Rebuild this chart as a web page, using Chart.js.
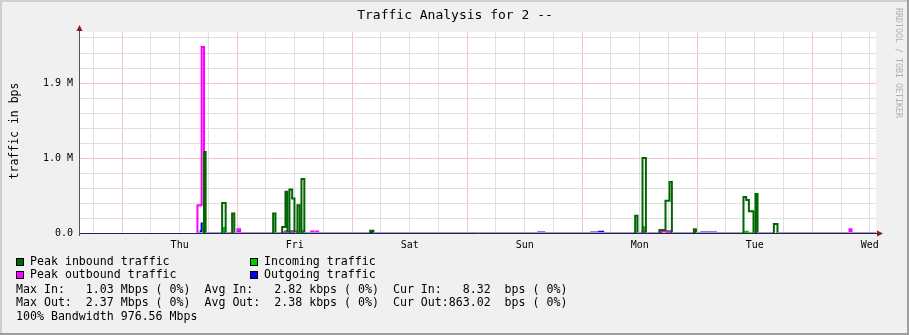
<!DOCTYPE html>
<html>
<head>
<meta charset="utf-8">
<script src="https://cdn.jsdelivr.net/npm/chart.js@4.4.1/dist/chart.umd.min.js"></script>
<style>
  html, body { margin: 0; padding: 0; background: #f0f0f0; }
  #wrap { width: 909px; height: 335px; }
</style>
</head>
<body>
<div id="wrap"><canvas id="traffic" width="909" height="335"></canvas></div>
<script>
// time = hours from Thu 00:00, values in axis units (1 unit = "1.0 M")
const dayNames = ['Thu', 'Fri', 'Sat', 'Sun', 'Mon', 'Tue', 'Wed'];
const yTickValues = [0, 1, 2];
const yTickLabels = ['0.0', '1.0 M', '1.9 M'];

const peakInTimes = [15.71, 17.09, 17.42, 20.87, 21.60, 22.95, 23.41, 31.51, 31.99, 33.39, 34.08, 34.50, 34.91, 35.48, 35.96,
  36.58, 37.06, 37.42, 38.02, 51.75, 52.44, 107.05, 107.53, 108.58, 109.29, 112.13, 113.38, 114.21, 114.71,
  119.30, 119.72, 129.65, 130.22, 130.78, 131.74, 132.16, 132.58, 135.99, 136.74, 157.3];
const peakInValues = [0, 1.08, 0, 0.40, 0, 0.26, 0, 0.26, 0, 0.08, 0.55, 0, 0.58, 0.46, 0,
  0.37, 0, 0.72, 0, 0.03, 0, 0.23, 0, 1.0, 0, 0.04, 0.43, 0.68, 0,
  0.05, 0, 0.48, 0.44, 0.29, 0, 0.52, 0, 0.12, 0, 0];

const peakOutTimes = [15.71, 16.59, 17.09, 24.06, 24.62, 34.0, 36.5, 39.44, 39.96, 40.48, 40.90, 108.58, 109.29,
  112.13, 114.71, 151.77, 152.19, 157.3];
const peakOutValues = [0.37, 2.48, 0, 0.05, 0, 0.02, 0, 0.02, 0, 0.02, 0, 0.02, 0,
  0.02, 0, 0.05, 0, 0];

const inTimes = [16.70, 17.38, 20.87, 21.60, 33.39, 34.08, 34.50, 34.91, 35.96, 37.42, 38.02, 108.58, 109.29,
  113.38, 114.71, 129.65, 130.78, 131.74, 157.3];
const inValues = [0.13, 0, 0.08, 0, 0.02, 0.04, 0.02, 0.04, 0.01, 0.04, 0, 0.09, 0,
  0.04, 0, 0.03, 0.01, 0, 0];

const outTimes = [16.13, 16.38, 16.95, 24.06, 24.62, 51.75, 52.44, 86.60, 88.27, 97.66, 99.33, 100.58,
  112.13, 112.63, 120.62, 124.10, 151.77, 152.19, 157.3];
const outValues = [0.04, 0.14, 0, 0.03, 0, 0.03, 0, 0.02, 0, 0.02, 0.03, 0,
  0.03, 0, 0.02, 0, 0.04, 0, 0];

const legendItems = [
  { label: 'Peak inbound traffic', color: '#006600' },
  { label: 'Incoming traffic', color: '#00cc00' },
  { label: 'Peak outbound traffic', color: '#ff00ff' },
  { label: 'Outgoing traffic', color: '#0000ff' }
];
const statLines = [
  'Max In:   1.03 Mbps ( 0%)  Avg In:   2.82 kbps ( 0%)  Cur In:   8.32  bps ( 0%)',
  'Max Out:  2.37 Mbps ( 0%)  Avg Out:  2.38 kbps ( 0%)  Cur Out:863.02  bps ( 0%)',
  '100% Bandwidth 976.56 Mbps'
];

const MONO = '"DejaVu Sans Mono", monospace';
const baseColor = '#a09cbc';

// step points; an extra zero point is put in front of each rise
const toSteps = (times, values) => {
  const pts = [];
  times.forEach((t, i) => {
    const prev = i > 0 ? values[i - 1] : 0;
    if (prev === 0 && values[i] !== 0) pts.push({ x: t, y: 0 });
    pts.push({ x: t, y: values[i] });
  });
  return pts;
};

const isFlatZero = ctx => ctx.p0.parsed.y === 0 && ctx.p1.parsed.y === 0;

const framePlugin = {
  id: 'frame',
  beforeDraw(chart) {
    const { ctx, chartArea: a } = chart;
    ctx.save();
    ctx.fillStyle = '#f0f0f0';
    ctx.fillRect(0, 0, 909, 335);
    ctx.fillStyle = '#cfcfcf';
    ctx.fillRect(0, 0, 909, 2);
    ctx.fillRect(0, 0, 2, 335);
    ctx.fillStyle = '#9e9e9e';
    ctx.fillRect(907, 0, 2, 335);
    ctx.fillRect(0, 333, 909, 2);
    ctx.fillStyle = '#ffffff';
    ctx.fillRect(a.left, a.top, a.right - a.left, a.bottom - a.top);
    ctx.restore();
  },
  afterDatasetsDraw(chart) {
    const { ctx, chartArea: a } = chart;
    ctx.save();
    // axes on top of the data
    ctx.strokeStyle = '#28205e';
    ctx.lineWidth = 1;
    ctx.beginPath();
    ctx.moveTo(a.left, a.bottom + 0.5);
    ctx.lineTo(a.right + 2, a.bottom + 0.5);
    ctx.stroke();
    ctx.strokeStyle = '#555555';
    ctx.beginPath();
    ctx.moveTo(a.left + 0.5, a.bottom + 3);
    ctx.lineTo(a.left + 0.5, a.top - 5);
    ctx.stroke();
    // arrows
    ctx.fillStyle = '#8b1a1a';
    ctx.beginPath();
    ctx.moveTo(a.left + 0.5, a.top - 7);
    ctx.lineTo(a.left - 2.5, a.top - 1);
    ctx.lineTo(a.left + 3.5, a.top - 1);
    ctx.closePath();
    ctx.fill();
    ctx.beginPath();
    ctx.moveTo(a.right + 7, a.bottom + 0.5);
    ctx.lineTo(a.right + 1, a.bottom - 2.5);
    ctx.lineTo(a.right + 1, a.bottom + 3.5);
    ctx.closePath();
    ctx.fill();
    ctx.restore();
  },
  afterDraw(chart) {
    const { ctx } = chart;
    ctx.save();
    ctx.fillStyle = '#000000';
    ctx.textBaseline = 'middle';

    ctx.font = '13px ' + MONO;
    ctx.textAlign = 'center';
    ctx.fillText('Traffic Analysis for 2 --', 455, 16);

    ctx.save();
    ctx.translate(15, 131);
    ctx.rotate(-Math.PI / 2);
    ctx.font = '11.5px ' + MONO;
    ctx.fillText('traffic in bps', 0, 0);
    ctx.restore();

    ctx.save();
    ctx.translate(898, 63);
    ctx.rotate(Math.PI / 2);
    ctx.font = '8.3px ' + MONO;
    ctx.fillStyle = '#b0b0b0';
    ctx.fillText('RRDTOOL / TOBI OETIKER', 0, 0);
    ctx.restore();

    ctx.textAlign = 'left';
    ctx.font = '11.6px ' + MONO;
    legendItems.forEach((item, i) => {
      const x = i % 2 === 0 ? 16 : 250;
      const y = i < 2 ? 262 : 275;
      ctx.fillStyle = item.color;
      ctx.fillRect(x, y - 4, 8, 8);
      ctx.strokeStyle = '#000000';
      ctx.lineWidth = 1;
      ctx.strokeRect(x + 0.5, y - 3.5, 7, 7);
      ctx.fillStyle = '#000000';
      ctx.fillText(item.label, x + 14, y);
    });
    statLines.forEach((line, i) => {
      ctx.fillText(line, 16, 289.5 + i * 13.5);
    });
    ctx.restore();
  }
};

new Chart(document.getElementById('traffic'), {
  type: 'line',
  data: {
    datasets: [
      {
        label: 'Peak inbound traffic',
        data: toSteps(peakInTimes, peakInValues),
        borderColor: '#006600',
        borderWidth: 2,
        segment: { borderColor: ctx => isFlatZero(ctx) ? baseColor : '#006600' },
        stepped: true,
        pointRadius: 0,
        fill: false,
        order: 0
      },
      {
        label: 'Peak outbound traffic',
        data: toSteps(peakOutTimes, peakOutValues),
        borderColor: '#ff00ff',
        borderWidth: 2,
        segment: { borderColor: ctx => isFlatZero(ctx) ? 'rgba(0,0,0,0)' : '#ff00ff' },
        stepped: true,
        pointRadius: 0,
        fill: false,
        order: 1
      },
      {
        label: 'Incoming traffic',
        data: toSteps(inTimes, inValues),
        borderColor: 'rgba(0,0,0,0)',
        borderWidth: 0,
        backgroundColor: '#00cc00',
        stepped: true,
        pointRadius: 0,
        fill: 'origin',
        order: 2
      },
      {
        label: 'Outgoing traffic',
        data: toSteps(outTimes, outValues),
        borderColor: 'rgba(0,0,0,0)',
        borderWidth: 0,
        backgroundColor: '#0000ff',
        stepped: true,
        pointRadius: 0,
        fill: 'origin',
        order: 3
      }
    ]
  },
  options: {
    responsive: false,
    animation: false,
    events: [],
    layout: { padding: { left: 0, right: 33, top: 32, bottom: 82 } },
    plugins: {
      legend: { display: false },
      tooltip: { enabled: false }
    },
    scales: {
      x: {
        type: 'linear',
        min: -9,
        max: 157.3,
        afterBuildTicks: scale => {
          const ticks = [];
          for (let h = -6; h <= 156; h += 6) ticks.push({ value: h });
          scale.ticks = ticks;
        },
        afterFit: scale => { scale.height = 20; },
        border: { display: false },
        grid: {
          drawTicks: false,
          color: ctx => (ctx.tick && ctx.tick.value % 24 === 0) ? '#f4c4c4' : '#e0e0e0'
        },
        ticks: {
          autoSkip: false,
          maxRotation: 0,
          padding: 6,
          color: '#000000',
          font: { family: MONO, size: 10 },
          callback: value => ((value - 12) % 24 === 0 ? dayNames[(value - 12) / 24] : '')
        }
      },
      y: {
        min: 0,
        max: 2.68,
        afterBuildTicks: scale => {
          const ticks = [];
          for (let k = 0; k <= 13; k++) ticks.push({ value: k / 5 });
          scale.ticks = ticks;
        },
        afterFit: scale => { scale.width = 79; },
        border: { display: false },
        grid: {
          drawTicks: false,
          color: ctx => (ctx.tick && (ctx.tick.value === 1 || ctx.tick.value === 2)) ? '#f4c4c4' : '#e0e0e0'
        },
        ticks: {
          autoSkip: false,
          padding: 6,
          color: '#000000',
          font: { family: MONO, size: 10 },
          callback: value => {
            const i = yTickValues.indexOf(value);
            return i >= 0 ? yTickLabels[i] : '';
          }
        }
      }
    }
  },
  plugins: [framePlugin]
});
</script>
</body>
</html>
